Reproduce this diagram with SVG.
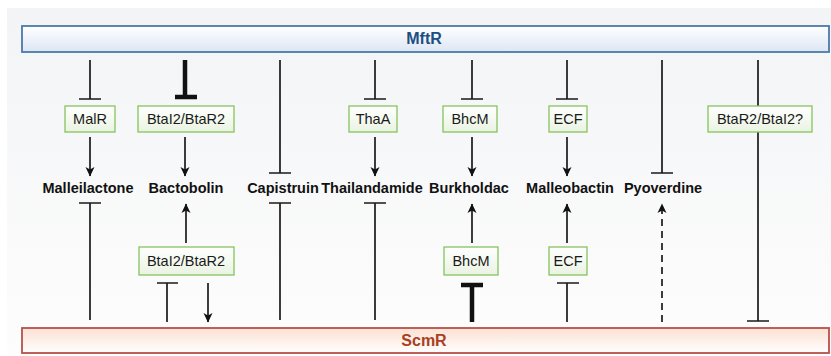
<svg xmlns="http://www.w3.org/2000/svg" width="831" height="356" viewBox="0 0 831 356">
<style>
.ln{stroke:#1a1a1a;stroke-width:1.7;fill:none}
.thk{stroke:#111;stroke-width:4.5;fill:none}
.dash{stroke:#1a1a1a;stroke-width:1.7;fill:none;stroke-dasharray:7,5}
.arr{marker-end:url(#ah)}
.box{fill:url(#gg);stroke:#86c45e;stroke-width:1.3}
.bt{font-family:"Liberation Sans",Arial,sans-serif;font-size:14.5px;fill:#1a1a1a;text-anchor:middle}
.lab{font-family:"Liberation Sans",Arial,sans-serif;font-size:14.5px;font-weight:bold;fill:#111;text-anchor:middle}
.big{font-family:"Liberation Sans",Arial,sans-serif;font-size:16px;font-weight:bold;text-anchor:middle}
</style>
<defs>
<linearGradient id="bg" x1="0" y1="0" x2="0" y2="1"><stop offset="0" stop-color="#f3f4f6"/><stop offset="1" stop-color="#fdfdfd"/></linearGradient>
<linearGradient id="gb" x1="0" y1="0" x2="0" y2="1"><stop offset="0" stop-color="#ffffff"/><stop offset="1" stop-color="#dde6f4"/></linearGradient>
<linearGradient id="gr" x1="0" y1="0" x2="0" y2="1"><stop offset="0" stop-color="#fbe0d2"/><stop offset="1" stop-color="#ffffff"/></linearGradient>
<linearGradient id="gg" x1="0" y1="0" x2="0" y2="1"><stop offset="0" stop-color="#ffffff"/><stop offset="1" stop-color="#eaf3e2"/></linearGradient>
<marker id="ah" markerUnits="userSpaceOnUse" markerWidth="12" markerHeight="12" viewBox="0 0 12 12" refX="10" refY="6" orient="auto">
<path d="M1,1.5 L10.5,6 L1,10.5 L3.5,6 z" fill="#111"/>
</marker>
</defs>
<rect x="7" y="8" width="824" height="348" fill="url(#bg)"/>

<g id="MftR">
<rect x="22" y="26" width="807" height="26" fill="url(#gb)" stroke="#4a7aa8" stroke-width="1.8"/>
<text class="big" x="424" y="44" fill="#1c4f80">MftR</text>
</g>
<g id="ScmR">
<rect x="22" y="328" width="807" height="25" fill="url(#gr)" stroke="#b5524a" stroke-width="1.8"/>
<text class="big" x="424" y="346" fill="#a8401f">ScmR</text>
</g>

<g id="connectors">
<!-- top inhibitions -->
<path class="ln" d="M90,60 V99 M79,99 H101"/>
<path class="thk" d="M185,60 V97 M175,97 H197"/>
<path class="ln" d="M280,60 V173 M269,173 H291"/>
<path class="ln" d="M375,60 V99 M364,99 H386"/>
<path class="ln" d="M472,60 V99 M461,99 H483"/>
<path class="ln" d="M567,60 V99 M556,99 H578"/>
<path class="ln" d="M662,60 V173 M651,173 H673"/>
<path class="ln" d="M758,60 V321 M747,321 H769"/>
<!-- top activations -->
<path class="ln arr" d="M90,137 V176"/>
<path class="ln arr" d="M185,137 V176"/>
<path class="ln arr" d="M375,137 V176"/>
<path class="ln arr" d="M472,137 V176"/>
<path class="ln arr" d="M567,137 V176"/>
<!-- lower inhibitions from ScmR -->
<path class="ln" d="M90,320 V203 M79,203 H101"/>
<path class="ln" d="M280,320 V203 M269,203 H291"/>
<path class="ln" d="M375,320 V203 M364,203 H386"/>
<!-- lower activations -->
<path class="ln arr" d="M186,243 V204"/>
<path class="ln arr" d="M472,243 V204"/>
<path class="ln arr" d="M567,243 V204"/>
<path class="dash arr" d="M662,322 V204"/>
<!-- ScmR to lower boxes -->
<path class="ln" d="M167,322 V283 M157,283 H178"/>
<path class="ln arr" d="M208,283 V322"/>
<path class="thk" d="M472,322 V285 M461,285 H483"/>
<path class="ln" d="M567,322 V283 M557,283 H579"/>
</g>

<g id="MalR"><rect class="box" x="65" y="106" width="50" height="26"/><text class="bt" x="90" y="124">MalR</text></g>
<g id="BtaI2BtaR2_top"><rect class="box" x="138" y="106" width="96" height="26"/><text class="bt" x="186" y="124">BtaI2/BtaR2</text></g>
<g id="ThaA"><rect class="box" x="349" y="106" width="48" height="26"/><text class="bt" x="373" y="124">ThaA</text></g>
<g id="BhcM_top"><rect class="box" x="443" y="106" width="54" height="26"/><text class="bt" x="470" y="124">BhcM</text></g>
<g id="ECF_top"><rect class="box" x="549" y="106" width="38" height="26"/><text class="bt" x="568" y="124">ECF</text></g>
<g id="BtaR2BtaI2q"><rect class="box" x="708" y="106" width="104" height="26"/><text class="bt" x="760" y="124">BtaR2/BtaI2?</text></g>

<g id="Malleilactone"><text class="lab" x="88" y="193">Malleilactone</text></g>
<g id="Bactobolin"><text class="lab" x="186" y="193">Bactobolin</text></g>
<g id="Capistruin"><text class="lab" x="283" y="193">Capistruin</text></g>
<g id="Thailandamide"><text class="lab" x="372" y="193">Thailandamide</text></g>
<g id="Burkholdac"><text class="lab" x="469" y="193">Burkholdac</text></g>
<g id="Malleobactin"><text class="lab" x="570" y="193">Malleobactin</text></g>
<g id="Pyoverdine"><text class="lab" x="663" y="193">Pyoverdine</text></g>

<g id="BtaI2BtaR2_low"><rect class="box" x="139" y="247" width="95" height="28"/><text class="bt" x="186" y="266">BtaI2/BtaR2</text></g>
<g id="BhcM_low"><rect class="box" x="444" y="247" width="54" height="28"/><text class="bt" x="471" y="266">BhcM</text></g>
<g id="ECF_low"><rect class="box" x="549" y="247" width="38" height="28"/><text class="bt" x="568" y="266">ECF</text></g>
</svg>
